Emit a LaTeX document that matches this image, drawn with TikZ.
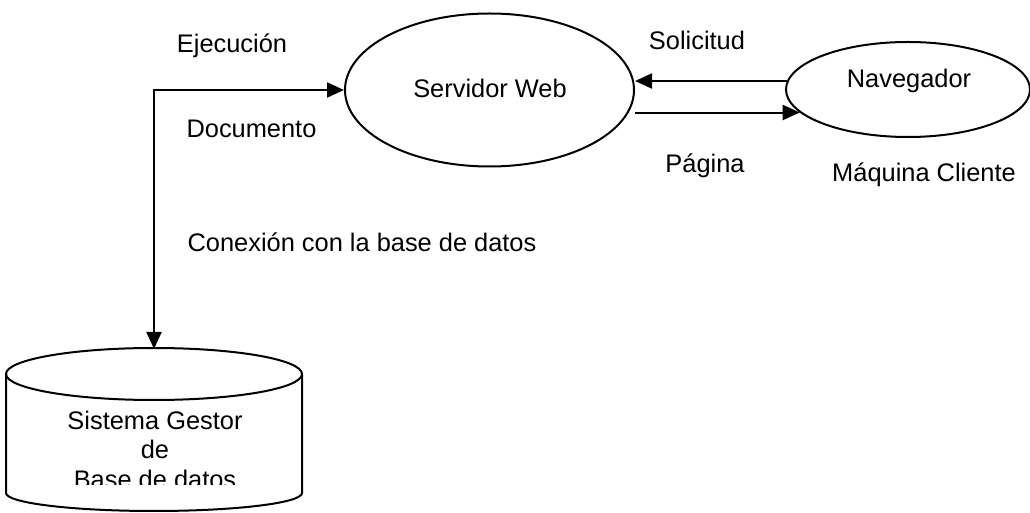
\documentclass[tikz,border=0pt]{standalone}
\usepackage{fontspec}
\setmainfont{Liberation Sans}
\usetikzlibrary{shapes.geometric,arrows.meta}

\begin{document}
\begin{tikzpicture}[x=0.5pt,y=-0.5pt,
    line width=1pt,
    every node/.style={font=\fontsize{12.7}{15}\selectfont, inner sep=0pt},
    lbl/.style={anchor=base},
    proc/.style={draw, ellipse, line width=1pt},
    tip/.style={Triangle[length=8.5pt,width=7.5pt]},
    arr/.style={-{Triangle[length=8.5pt,width=7.5pt]}},
    darr/.style={{Triangle[length=8.5pt,width=7.5pt]}-{Triangle[length=8.5pt,width=7.5pt]}}]
  \useasboundingbox (0,0) rectangle (1030,513);

  % processes
  \node[proc, minimum width=144.5pt, minimum height=76.5pt] (srv) at (489.5,90) {};
  \node[lbl] (srvtxt) at (490,98) {Servidor Web};
  \node[proc, minimum width=122pt, minimum height=47.5pt] (nav) at (908,89.5) {};
  \node[lbl] (navtxt) at (909,88) {Navegador};

  % database cylinder
  \draw (154,374) ellipse[x radius=148, y radius=26];
  \draw (6,374) -- (6,493) arc[start angle=180, end angle=0, x radius=148, y radius=18] -- (302,374);
  \coordinate (dbtop) at (154,349);
  \node[lbl] (db1) at (155,430) {Sistema Gestor};
  \node[lbl] (db2) at (155,459) {de};
  \begin{scope}
    \clip (0,0) rectangle (1030,485);
    \node[lbl] (db3) at (155,489) {Base de datos};
  \end{scope}

  % connectors
  \draw[darr] (dbtop) |- (srv.west);
  \draw[arr] (nav.176.5) -- (srv.east |- nav.176.5);
  \draw[arr] (srv.east |- nav.192.5) -- (nav.192.5);

  % labels
  \node[lbl] (ejec) at (232,53) {Ejecución};
  \node[lbl] (doc) at (251.5,138) {Documento};
  \node[lbl] (sol) at (697,50) {Solicitud};
  \node[lbl] (pag) at (705,173) {Página};
  \node[lbl] (maq) at (924,182) {Máquina Cliente};
  \node[lbl] (conx) at (362,252) {Conexión con la base de datos};
\end{tikzpicture}
\end{document}
